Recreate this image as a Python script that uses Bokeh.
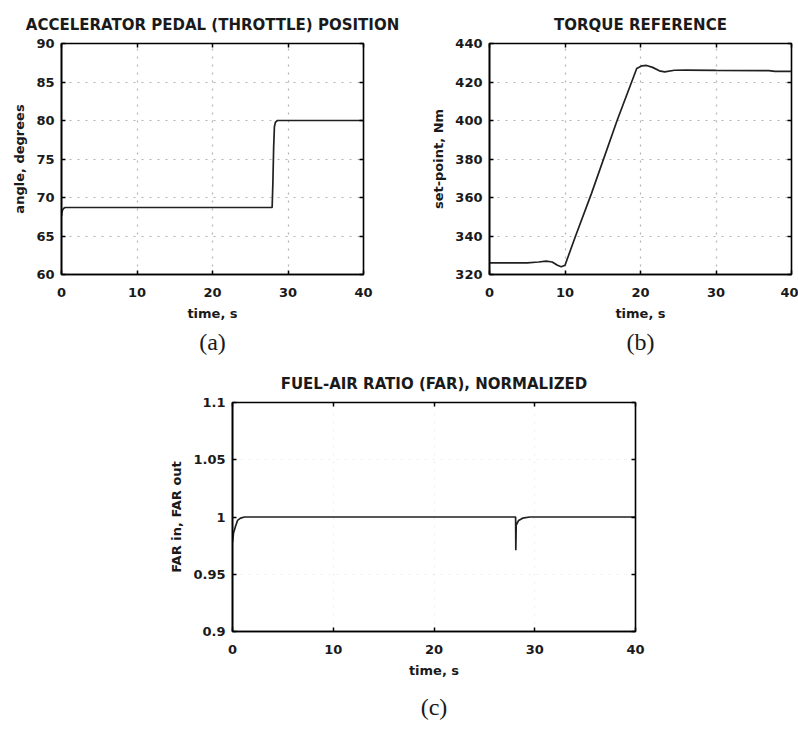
from bokeh.plotting import figure
from bokeh.layouts import column, row
from bokeh.models import Spacer, Title, LinearAxis, FixedTicker, Range1d
from bokeh.embed import file_html
from bokeh.resources import INLINE

# ---- data ----
# (a) accelerator pedal position, degrees
t_a = [0, 0.05, 0.15, 0.3, 0.5, 1.0, 10, 20, 27.9, 28.0, 28.1, 28.2, 28.35, 28.6, 29.0, 35, 40]
v_a = [67.6, 68.0, 68.4, 68.6, 68.7, 68.7, 68.7, 68.7, 68.7, 72.0, 76.5, 79.2, 79.8, 80.0, 80.0, 80.0, 80.0]

# (b) torque reference set-point, Nm
t_b = [0, 5, 6.5, 7.5, 8.3, 9.0, 9.5, 10.0, 11.4, 13.5, 16.9, 19.5, 20.2, 20.8, 21.6,
       22.5, 23.2, 24.5, 26, 30, 37, 37.8, 40]
v_b = [326, 326, 326.5, 326.9, 326.5, 324.8, 324.0, 324.8, 340, 362, 400, 427, 428.4, 428.6, 427.6,
       425.8, 425.3, 426.1, 426.2, 426.0, 425.9, 425.5, 425.5]

# (c) fuel-air ratio, normalized
t_c = [0, 0.1, 0.3, 0.5, 0.8, 1.2, 28.1, 28.12, 28.16, 28.4, 28.8, 29.5, 40]
v_c = [0.978, 0.986, 0.992, 0.997, 0.999, 1.0, 1.0, 0.971, 0.993, 0.997, 0.999, 1.0, 1.0]

x_ticks = [0, 10, 20, 30, 40]
y_ticks_a = [60, 65, 70, 75, 80, 85, 90]
y_ticks_b = [320, 340, 360, 380, 400, 420, 440]
y_ticks_c = [0.9, 0.95, 1.0, 1.05, 1.1]
y_labels_c = {0.9: "0.9", 0.95: "0.95", 1.0: "1", 1.05: "1.05", 1.1: "1.1"}

SANS = "DejaVu Sans"
SERIF = "Liberation Serif"
INK = "#1a1a1a"


def tick_only_axis(ticks):
    # ticks pointing inward on the box's top / right side, with no labels drawn
    return LinearAxis(ticker=FixedTicker(ticks=ticks),
                      major_label_overrides={t: "" for t in ticks},
                      major_label_text_font_size="1px", major_label_text_color=None,
                      major_label_standoff=0, axis_line_color=None,
                      major_tick_in=4, major_tick_out=0, major_tick_line_width=1.5,
                      major_tick_line_color="black", minor_tick_line_color=None)


def panel(width, height, bl, br, bt, bb, yr, yticks, title, ylabel, tag, tag_offset, tag_standoff,
          xs, ys, grid_alpha=0.55, ylabels=None):
    p = figure(width=width, height=height, output_backend="svg", toolbar_location=None,
               x_range=Range1d(0, 40), y_range=Range1d(*yr),
               min_border_left=bl, min_border_right=br, min_border_top=bt, min_border_bottom=bb,
               background_fill_color="white", border_fill_color="white")
    p.title.text = title
    p.title.align = "center"
    p.title.text_font = SANS
    p.title.text_font_size = "15px"
    p.title.text_font_style = "bold"
    p.title.text_color = INK
    p.title.standoff = 20

    p.xaxis.ticker = FixedTicker(ticks=x_ticks)
    p.yaxis.ticker = FixedTicker(ticks=yticks)
    if ylabels:
        p.yaxis.major_label_overrides = ylabels
    for ax in (p.xaxis[0], p.yaxis[0]):
        ax.axis_line_color = "black"
        ax.axis_line_width = 1.6
        ax.major_tick_in = 4
        ax.major_tick_out = 0
        ax.major_tick_line_color = "black"
        ax.major_tick_line_width = 1.5
        ax.minor_tick_line_color = None
        ax.major_label_text_font = SANS
        ax.major_label_text_font_style = "bold"
        ax.major_label_text_font_size = "13px"
        ax.major_label_text_color = INK
        ax.axis_label_text_font = SANS
        ax.axis_label_text_font_style = "bold"
        ax.axis_label_text_font_size = "13px"
        ax.axis_label_text_color = INK
    p.xaxis.major_label_standoff = 13
    p.yaxis.major_label_standoff = 7
    p.xaxis.axis_label = "time, s"
    p.xaxis.axis_label_standoff = 6
    p.yaxis.axis_label = ylabel
    p.yaxis.axis_label_standoff = 6

    p.add_layout(tick_only_axis(x_ticks), "above")
    p.add_layout(tick_only_axis(yticks), "right")

    p.outline_line_color = "black"
    p.outline_line_width = 1.6
    p.outline_line_alpha = 1.0

    p.xgrid.ticker = FixedTicker(ticks=x_ticks)
    p.ygrid.ticker = FixedTicker(ticks=yticks)
    p.grid.grid_line_color = "#777777"
    p.grid.grid_line_dash = "2 6"
    p.grid.grid_line_width = 1.2
    p.grid.grid_line_alpha = grid_alpha

    p.line(xs, ys, line_color="#202020", line_width=1.7)

    p.add_layout(Title(text=tag, align="center", offset=tag_offset, text_font=SERIF,
                       text_font_size="24px", text_font_style="normal", text_color=INK,
                       standoff=tag_standoff), "below")
    return p


pa = panel(400, 360, 61, 37, 42, 86, (60, 90), y_ticks_a,
           "ACCELERATOR PEDAL (THROTTLE) POSITION", "angle, degrees", "(a)", 5, 6, t_a, v_a)
pb = panel(398, 360, 89, 7, 43, 85, (320, 440), y_ticks_b,
           "TORQUE REFERENCE", "set-point, Nm", "(b)", 82, 6, t_b, v_b)
pc = panel(520, 370, 92, 25, 42, 97, (0.9, 1.1), y_ticks_c,
           "FUEL-AIR RATIO (FAR), NORMALIZED", "FAR in, FAR out", "(c)", -11, 22, t_c, v_c,
           grid_alpha=0.12, ylabels=y_labels_c)

layout = column(row(pa, pb), row(Spacer(width=140, height=370), pc))

open("out.html", "w").write(file_html(layout, INLINE))
